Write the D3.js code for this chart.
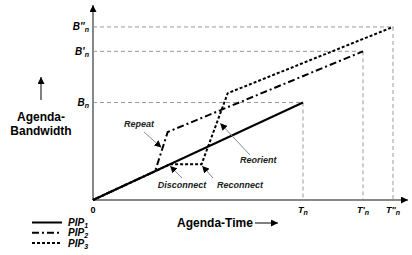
<!DOCTYPE html>
<html><head><meta charset="utf-8">
<script src="https://cdn.jsdelivr.net/npm/d3@7"></script>
<style>
html,body{margin:0;padding:0;background:#fff;}
svg{display:block;font-family:"Liberation Sans",Arial,sans-serif;}
</style></head>
<body><svg id="c" width="412" height="255"></svg>
<script>
// ---- data (abstract agenda-time / agenda-bandwidth units) ----
const seriesNames = ["PIP1", "PIP2", "PIP3"];
const pip1 = [[0, 0], [7, 4]];
const pip2 = [[0, 0], [2.07, 1.18], [2.49, 2.79], [9, 6.1]];
const pip3 = [[0, 0], [2.57, 1.47], [3.62, 1.47], [4.49, 4.38], [10, 7.1]];
const timeTicks = [0, 7, 9, 10];
const timeTickLabels = [["0", ""], ["T", ""], ["T'", ""], ["T''", ""]];
const bwLevels = [4, 6.1, 7.1];
const bwLabels = ["B", "B'", "B''"];
const annotations = [
  {text: "Repeat",     tx: 139, ty: 127, anchor: "middle", from: [144, 132], to: [2.28, 2.15]},
  {text: "Disconnect", tx: 182, ty: 188, anchor: "middle", from: [182, 178], to: [2.57, 1.40]},
  {text: "Reconnect",  tx: 240, ty: 188, anchor: "middle", from: [213, 178], to: [3.64, 1.40]},
  {text: "Reorient",   tx: 240, ty: 163, anchor: "start",  from: [250, 155], to: [4.24, 3.15]}
];

const svg = d3.select("#c");
const x = d3.scaleLinear().domain([0, 10.5]).range([93, 408]);
const y = d3.scaleLinear().domain([0, 8]).range([200, 5]);

const defs = svg.append("defs");
defs.append("marker").attr("id", "ah").attr("viewBox", "0 0 10 10")
  .attr("refX", 10).attr("refY", 5).attr("markerWidth", 7).attr("markerHeight", 7)
  .attr("markerUnits", "userSpaceOnUse").attr("orient", "auto")
  .append("path").attr("d", "M0,0L10,5L0,10Z").attr("fill", "#000");
defs.append("marker").attr("id", "axh").attr("viewBox", "0 0 10 10")
  .attr("refX", 10).attr("refY", 5).attr("markerWidth", 9).attr("markerHeight", 7)
  .attr("markerUnits", "userSpaceOnUse").attr("orient", "auto")
  .append("path").attr("d", "M0,0L10,5L0,10Z").attr("fill", "#000");

// guide lines
const guides = svg.append("g").attr("stroke", "#999").attr("stroke-width", 1)
  .attr("stroke-dasharray", "4,3").attr("fill", "none");
bwLevels.forEach((b, i) => {
  const t = timeTicks[i + 1];
  guides.append("line").attr("x1", x(0)).attr("x2", x(t)).attr("y1", y(b)).attr("y2", y(b));
  guides.append("line").attr("x1", x(t)).attr("x2", x(t)).attr("y1", y(b)).attr("y2", y(0));
});

// axes
svg.append("line").attr("x1", x(0)).attr("y1", y(0)).attr("x2", x(10.5)).attr("y2", y(0))
  .attr("stroke", "#888").attr("stroke-width", 2).attr("marker-end", "url(#axh)");
svg.append("line").attr("x1", x(0)).attr("y1", y(0)).attr("x2", x(0)).attr("y2", y(8))
  .attr("stroke", "#888").attr("stroke-width", 2).attr("marker-end", "url(#axh)");

// series lines
const line = d3.line().x(d => x(d[0])).y(d => y(d[1]));
const styles = [
  {data: pip1, dash: null},
  {data: pip2, dash: "7,3,2,3"},
  {data: pip3, dash: "3,2"}
];
[styles[2], styles[1], styles[0]].forEach(s => {
  svg.append("path").datum(s.data).attr("d", line).attr("fill", "none")
    .attr("stroke", "#000").attr("stroke-width", 2)
    .attr("stroke-dasharray", s.dash);
});

// tick labels on time axis
timeTicks.forEach((t, i) => {
  const tx = svg.append("text").attr("x", x(t)).attr("y", 213).attr("text-anchor", "middle")
    .attr("font-size", 9).attr("font-weight", "bold").attr("font-style", i ? "italic" : "normal");
  tx.append("tspan").text(timeTickLabels[i][0]);
  if (i) tx.append("tspan").attr("font-size", 7).attr("dy", 2).text("n");
});
// bandwidth labels
bwLevels.forEach((b, i) => {
  const tx = svg.append("text").attr("x", 89).attr("y", y(b) + 3.5).attr("text-anchor", "end")
    .attr("font-size", 10).attr("font-weight", "bold").attr("font-style", "italic");
  tx.append("tspan").text(bwLabels[i]);
  tx.append("tspan").attr("font-size", 7).attr("dy", 2).text("n");
});

// annotations
annotations.forEach(a => {
  svg.append("line").attr("x1", a.from[0]).attr("y1", a.from[1])
    .attr("x2", x(a.to[0])).attr("y2", y(a.to[1]))
    .attr("stroke", "#888").attr("stroke-width", 1).attr("marker-end", "url(#ah)");
  svg.append("text").attr("x", a.tx).attr("y", a.ty).attr("text-anchor", a.anchor)
    .attr("font-size", 9).attr("font-weight", "bold").attr("font-style", "italic")
    .attr("fill", "#222").text(a.text);
});

// axis titles
svg.append("text").attr("x", 41).attr("y", 121).attr("text-anchor", "middle")
  .attr("font-size", 12).attr("font-weight", "bold").text("Agenda-");
svg.append("text").attr("x", 41).attr("y", 135).attr("text-anchor", "middle")
  .attr("font-size", 12).attr("font-weight", "bold").text("Bandwidth");
svg.append("line").attr("x1", 41).attr("y1", 100).attr("x2", 41).attr("y2", 77)
  .attr("stroke", "#000").attr("stroke-width", 1).attr("marker-end", "url(#ah)");
svg.append("text").attr("x", 215).attr("y", 227).attr("text-anchor", "middle")
  .attr("font-size", 12).attr("font-weight", "bold").text("Agenda-Time");
svg.append("line").attr("x1", 255).attr("y1", 223).attr("x2", 278).attr("y2", 223)
  .attr("stroke", "#000").attr("stroke-width", 1).attr("marker-end", "url(#ah)");

// legend
const lg = svg.append("g");
styles.forEach((s, i) => {
  const ly = 222.5 + i * 10.3;
  lg.append("line").attr("x1", 32).attr("x2", 62).attr("y1", ly).attr("y2", ly)
    .attr("stroke", "#000").attr("stroke-width", 2).attr("stroke-dasharray", s.dash);
  const t = lg.append("text").attr("x", 68).attr("y", ly + 3.5)
    .attr("font-size", 10).attr("font-weight", "bold").attr("font-style", "italic");
  t.append("tspan").text("PIP");
  t.append("tspan").attr("font-size", 7).attr("dy", 2).text(String(i + 1));
});
</script></body></html>
